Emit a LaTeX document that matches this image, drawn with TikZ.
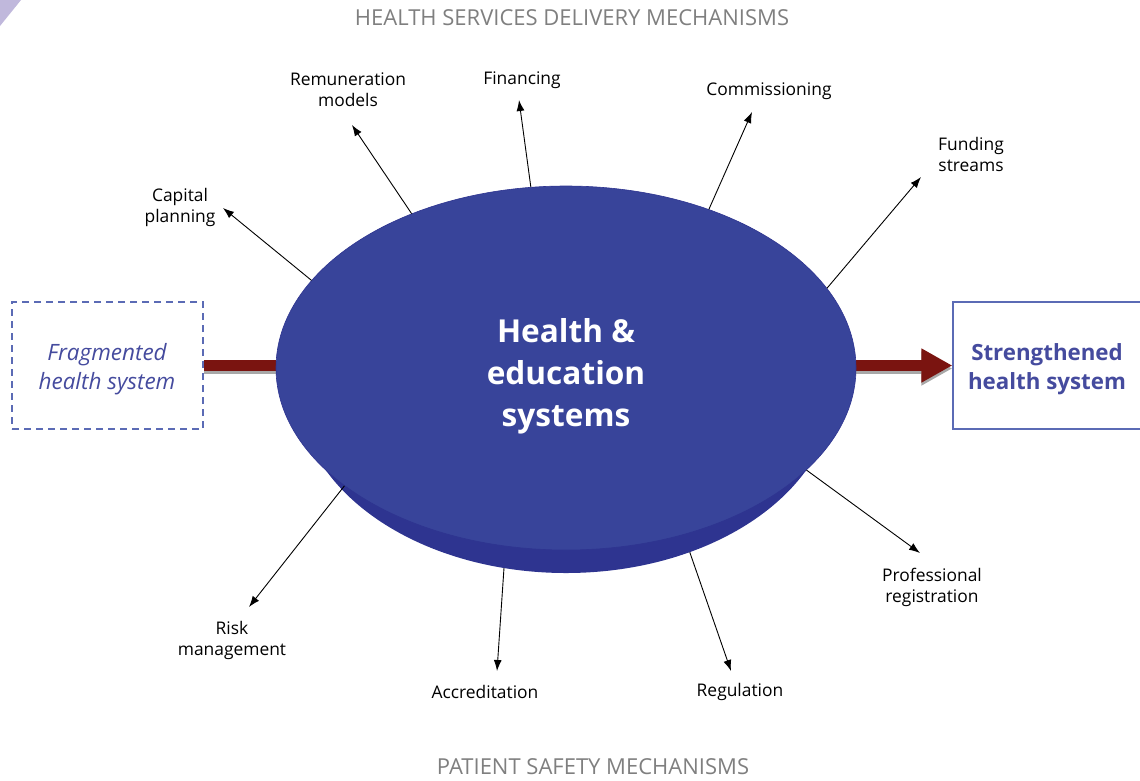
\documentclass[tikz,border=0pt]{standalone}
\usepackage{fontspec}
\setmainfont{Open Sans}
\usetikzlibrary{shapes.geometric,arrows.meta}
\definecolor{discblue}{HTML}{38449A}
\definecolor{discside}{HTML}{2E3490}
\definecolor{textblue}{HTML}{454B9E}
\definecolor{boxblue}{HTML}{5B6BB5}
\definecolor{darkred}{HTML}{7A1410}
\definecolor{shadowgray}{HTML}{A8A8A8}
\definecolor{captiongray}{HTML}{7F7F7F}
\definecolor{cornerlilac}{HTML}{C0B8DC}
\begin{document}
\begin{tikzpicture}[x=1pt,y=-1pt,
  lbl/.style={align=center,font=\fontsize{17.4}{21}\selectfont,text=black,inner sep=0pt},
  caption/.style={font=\fontsize{22}{26}\selectfont,text=captiongray,inner sep=0pt},
  spoke/.style={-{Latex[length=11pt,width=8pt]},line width=0.9pt,black},
  bigarrow/.style={line width=11pt,darkred},
  bigshadow/.style={line width=11pt,shadowgray,transform canvas={yshift=-3pt}},
  sysbox/.style={rectangle,draw=boxblue,line width=1.3pt,inner sep=0pt,minimum height=127pt},
  systext/.style={align=center,text=textblue,inner sep=0pt}
]
\useasboundingbox (0,0) rectangle (1140,780);
\fill[cornerlilac] (0,0) -- (21,0) -- (0,26) -- cycle;

% captions
\node[caption] (topcap) at (572,18) {HEALTH SERVICES DELIVERY MECHANISMS};
\node[caption] (botcap) at (593,767) {PATIENT SAFETY MECHANISMS};

% side boxes
\node[sysbox,dash pattern=on 7pt off 5pt,minimum width=191pt] (frag) at (107.5,365.5) {};
\node[systext,font=\fontsize{22.5}{29}\selectfont\itshape] (fragtext) at (107,369) {Fragmented\\health system};
\node[sysbox,minimum width=200pt] (strongbox) at (1053,365.5) {};
\node[systext,font=\fontsize{22.3}{29}\selectfont\bfseries] (strong) at (1047,369) {Strengthened\\health system};

% disc: side band, then top face
\node[ellipse,fill=discside,minimum width=536pt,minimum height=370pt,inner sep=0pt] (bot) at (566,388) {};
\node[ellipse,minimum width=580pt,minimum height=364pt,inner sep=0pt] (discshape) at (566,368) {};

% thick arrows
\draw[bigshadow] (frag.east) -- (frag.east -| discshape.west);
\draw[bigarrow] (frag.east) -- (frag.east -| discshape.west);
\draw[bigshadow,-{Triangle[length=31pt,width=32pt]}] (strongbox.west -| discshape.east) -- (strongbox.west);
\draw[bigarrow,-{Triangle[length=31pt,width=32pt]}] (strongbox.west -| discshape.east) -- (strongbox.west);

\node[ellipse,fill=discblue,draw=discside,line width=0.6pt,minimum width=580pt,minimum height=364pt,inner sep=0pt] (disc) at (566,368) {};
\node[align=center,text=white,font=\fontsize{31.6}{42}\selectfont\bfseries,inner sep=0pt] (disctext) at (566,376) {Health \&\\education\\systems};

% labels
\node[lbl] (capital) at (180,207) {Capital\\planning};
\node[lbl] (remun) at (348,90) {Remuneration\\models};
\node[lbl] (finance) at (522,80) {Financing};
\node[lbl] (commis) at (769,91) {Commissioning};
\node[lbl] (funding) at (971,154) {Funding\\streams};
\node[lbl] (prof) at (932,587) {Professional\\registration};
\node[lbl] (regul) at (740,692) {Regulation};
\node[lbl] (accred) at (485,692) {Accreditation};
\node[lbl] (risk) at (232,640) {Risk\\management};

% spoke ends
\coordinate (capitalEnd) at (223,208);
\coordinate (remunEnd) at (352,125);
\coordinate (financeEnd) at (519,100);
\coordinate (commisEnd) at (752,112);
\coordinate (fundingEnd) at (921,177);
\coordinate (profEnd) at (920,553);
\coordinate (regulEnd) at (731,671);
\coordinate (accredEnd) at (497,671);
\coordinate (riskEnd) at (249,607);

\draw[spoke] (disc.161.5) -- (capitalEnd);
\draw[spoke] (disc.135.4) -- (remunEnd);
\draw[spoke] (disc.101.9) -- (financeEnd);
\draw[spoke] (disc.48.1) -- (commisEnd);
\draw[spoke] (disc.17.9) -- (fundingEnd);
\draw[spoke] (disc.-23.7) -- (profEnd);
\draw[spoke] (bot.-53.1) -- (regulEnd);
\draw[spoke] (bot.251.5) -- (accredEnd);
\draw[spoke] (disc.208) -- (riskEnd);
\end{tikzpicture}
\end{document}
